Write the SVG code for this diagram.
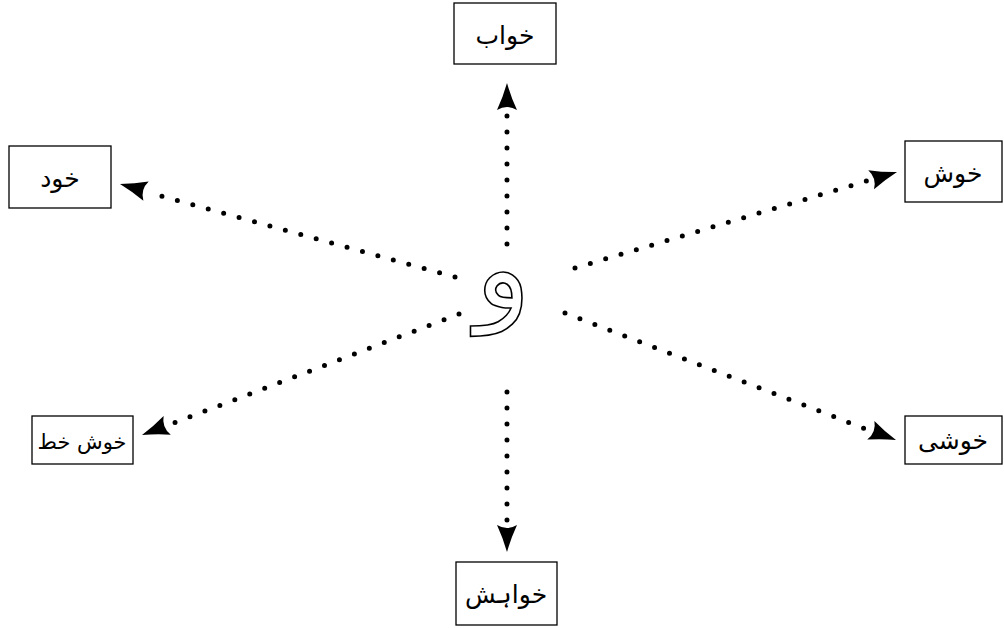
<svg xmlns="http://www.w3.org/2000/svg" width="1004" height="628" viewBox="0 0 1004 628" xmlns:xlink="http://www.w3.org/1999/xlink">
<style>
.box{fill:#fff;stroke:#000;stroke-width:1.3}
.lbl{font-family:"DejaVu Sans","Noto Sans",sans-serif;font-size:25px;fill:#000;text-anchor:middle}
.dot{stroke:#000;stroke-width:5;stroke-linecap:round;stroke-dasharray:0 16;fill:none}
.ctr{font-family:"DejaVu Sans","Noto Sans",sans-serif;font-size:115px;fill:none;stroke:#000;stroke-width:1.6;text-anchor:middle}
</style>
<defs>
<path id="ah" d="M0,0 Q-14,-4 -27,-10 Q-21,0 -27,10 Q-14,4 0,0 Z" fill="#000"/>
</defs>
<rect width="1004" height="628" fill="#fff"/>
<g id="center"><text class="ctr" x="503" y="308" direction="rtl">و</text></g>
<g id="n-khwab"><rect class="box" x="454" y="3" width="102" height="61"/><text class="lbl" x="505" y="44" direction="rtl">خواب</text></g>
<g id="n-khud"><rect class="box" x="9" y="146" width="102" height="62"/><text class="lbl" x="60" y="187" direction="rtl">خود</text></g>
<g id="n-khush"><rect class="box" x="905" y="141" width="97" height="61"/><text class="lbl" x="953" y="182" direction="rtl">خوش</text></g>
<g id="n-khushkhat"><rect class="box" x="32" y="416" width="101" height="48"/><text class="lbl" x="82" y="449" direction="rtl" style="font-size:21px">خوش خط</text></g>
<g id="n-khushi"><rect class="box" x="905" y="416" width="97" height="48"/><text class="lbl" x="953" y="449" direction="rtl">خوشی</text></g>
<g id="n-khwahish"><rect class="box" x="456" y="562" width="101" height="63"/><text class="lbl" x="506" y="603" direction="rtl">خواہش</text></g>
<g id="connectors">
<line class="dot" x1="507" y1="244" x2="507" y2="114"/>
<use xlink:href="#ah" transform="translate(507,83) rotate(-90)"/>
<line class="dot" x1="507" y1="392" x2="507" y2="522"/>
<use xlink:href="#ah" transform="translate(507,552) rotate(90)"/>
<line class="dot" x1="455" y1="277" x2="147" y2="192"/>
<use xlink:href="#ah" transform="translate(120,184) rotate(195.5)"/>
<line class="dot" x1="575" y1="268" x2="870" y2="180"/>
<use xlink:href="#ah" transform="translate(897,172) rotate(-16.7)"/>
<line class="dot" x1="459" y1="314" x2="166" y2="426"/>
<use xlink:href="#ah" transform="translate(142,435) rotate(159)"/>
<line class="dot" x1="565" y1="313" x2="871" y2="431"/>
<use xlink:href="#ah" transform="translate(896,440) rotate(21.1)"/>
</g>
</svg>
